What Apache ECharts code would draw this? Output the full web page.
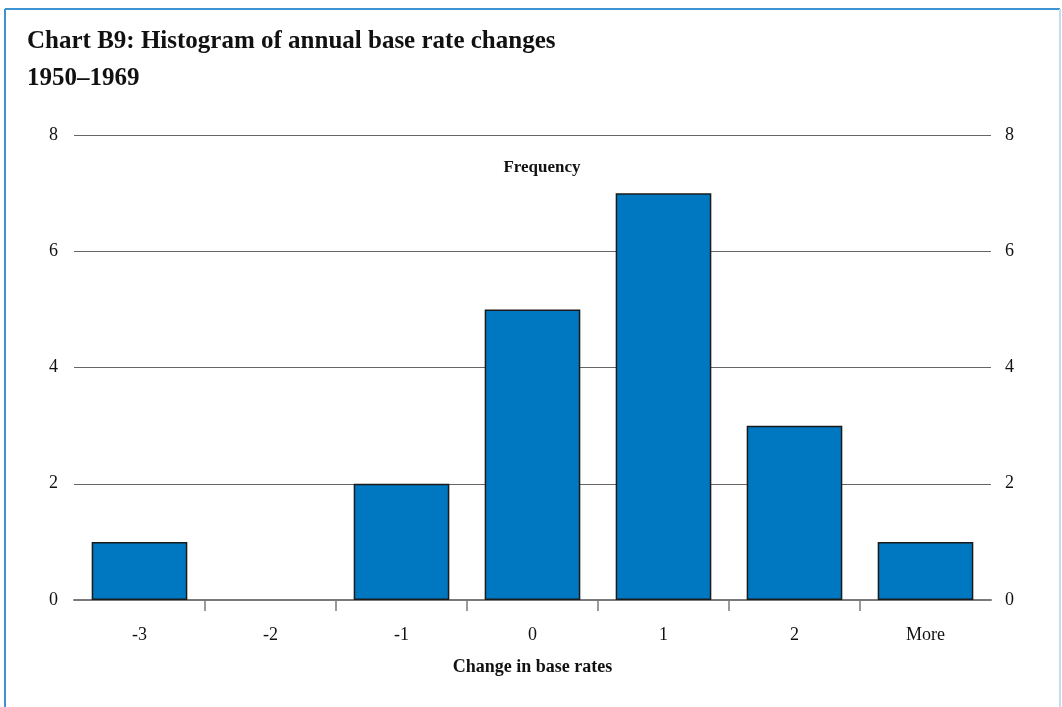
<!DOCTYPE html>
<html>
<head>
<meta charset="utf-8">
<style>
  html, body { margin: 0; padding: 0; background: #ffffff; }
  #chart { width: 1062px; height: 707px; }
</style>
<script src="https://cdn.jsdelivr.net/npm/echarts@6/dist/echarts.min.js"></script>
</head>
<body>
<div id="chart"></div>
<script>
// Histogram bins (change in base rates) and their frequencies
const categories = ['-3', '-2', '-1', '0', '1', '2', 'More'];
const frequency = [1, 0, 2, 5, 7, 3, 1];
// Bin boundaries used only to place the tick marks between bars
const binEdges = ['', '', '', '', '', '', '', ''];
const yTicks = { min: 0, max: 8, interval: 2 };

const serif = '"Liberation Serif", "DejaVu Serif", serif';
const chart = echarts.init(document.getElementById('chart'), null, { renderer: 'canvas' });

// Empty bins get no outline so nothing is drawn over the baseline
const barData = frequency.map(v => v === 0
  ? { value: v, itemStyle: { borderWidth: 0 } }
  : v);

chart.setOption({
  backgroundColor: '#ffffff',
  animation: false,
  title: [
    {
      text: 'Chart B9: Histogram of annual base rate changes\n1950\u20131969',
      left: 22,
      top: 18,
      textStyle: { fontFamily: serif, fontWeight: 'bold', fontSize: 25, color: '#111111', lineHeight: 37 }
    },
    {
      text: 'Frequency',
      left: 537,
      textAlign: 'center',
      top: 154,
      textStyle: { fontFamily: serif, fontWeight: 'bold', fontSize: 17, color: '#111111' }
    }
  ],
  graphic: [
    { type: 'line', shape: { x1: 5, y1: 9, x2: 1060, y2: 9 }, style: { stroke: '#3d92d2', lineWidth: 2 } },
    { type: 'line', shape: { x1: 5, y1: 9, x2: 5, y2: 707 }, style: { stroke: '#3d92d2', lineWidth: 2 } },
    { type: 'line', shape: { x1: 1060, y1: 9, x2: 1060, y2: 707 }, style: { stroke: '#c4dcef', lineWidth: 2 } }
  ],
  grid: { left: 74, right: 71, top: 135, bottom: 107, containLabel: false },
  xAxis: [
    {
      type: 'category',
      data: categories,
      position: 'bottom',
      axisLine: { show: true, lineStyle: { color: '#7a7a7a', width: 2 } },
      axisTick: { show: false },
      axisLabel: { fontFamily: serif, fontSize: 18, color: '#111111', margin: 26 },
      name: 'Change in base rates',
      nameLocation: 'middle',
      nameGap: 58,
      nameTextStyle: { fontFamily: serif, fontWeight: 'bold', fontSize: 18, color: '#111111' }
    },
    {
      type: 'category',
      data: binEdges,
      position: 'bottom',
      boundaryGap: false,
      axisLine: { show: false },
      axisTick: {
        show: true,
        length: 11,
        interval: function (i) { return i > 0 && i < binEdges.length - 1; },
        lineStyle: { color: '#7a7a7a', width: 1.5 }
      },
      axisLabel: { show: false },
      splitLine: { show: false }
    }
  ],
  yAxis: [
    {
      type: 'value',
      position: 'left',
      min: yTicks.min, max: yTicks.max, interval: yTicks.interval,
      axisLine: { show: false },
      axisTick: { show: false },
      axisLabel: { fontFamily: serif, fontSize: 18, color: '#111111', margin: 16 },
      splitLine: { show: true, lineStyle: { color: '#666666', width: 1.2 } }
    },
    {
      type: 'value',
      position: 'right',
      min: yTicks.min, max: yTicks.max, interval: yTicks.interval,
      axisLine: { show: false },
      axisTick: { show: false },
      axisLabel: { fontFamily: serif, fontSize: 18, color: '#111111', margin: 14 },
      splitLine: { show: false }
    }
  ],
  series: [
    {
      type: 'bar',
      xAxisIndex: 0,
      yAxisIndex: 0,
      data: barData,
      barCategoryGap: '27%',
      itemStyle: { color: '#0078c1', borderColor: '#1a1a1a', borderWidth: 1.5 },
      z: 3
    }
  ]
});
</script>
</body>
</html>
